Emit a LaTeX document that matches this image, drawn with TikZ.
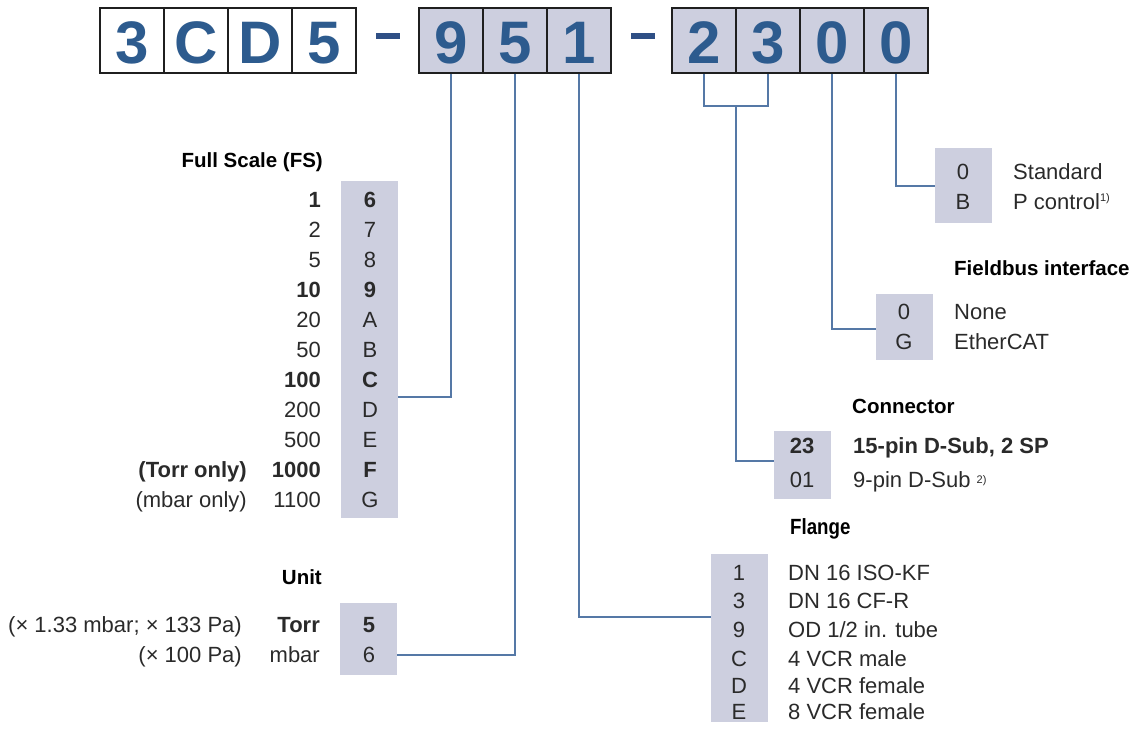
\documentclass[tikz,border=0pt]{standalone}
\usepackage{fontspec}
\setmainfont{Liberation Sans}
\newfontfamily\condfont[FakeStretch=0.85]{Liberation Sans}
\definecolor{boxfill}{HTML}{CDCFDF}
\definecolor{digitc}{HTML}{2D5B8E}
\definecolor{dashc}{HTML}{2F4F85}
\definecolor{connc}{HTML}{5578A6}
\definecolor{txtc}{HTML}{2A2A2A}
\begin{document}
\begin{tikzpicture}[x=1pt,y=-1pt,
 codebox/.style={draw=black!88, line width=2.2pt, minimum width=64pt, minimum height=65pt, inner sep=0pt, text height=46pt, text depth=0pt, text=digitc, font=\fontsize{60}{60}\selectfont\bfseries},
 selbox/.style={codebox, fill=boxfill},
 tab/.style={fill=boxfill, inner sep=0pt, minimum width=57pt},
 cell/.style={inner sep=0pt, text height=15pt, text depth=0pt, text=txtc, font=\fontsize{22}{22}\selectfont},
 bcell/.style={cell, font=\fontsize{22}{22}\selectfont\bfseries},
 head/.style={inner sep=0pt, text height=15pt, text depth=0pt, text=black, font=\fontsize{20.5}{20.5}\selectfont\bfseries},
 conn/.style={draw=connc, line width=1.3pt},
 dashbar/.style={fill=dashc, inner sep=0pt, minimum width=24pt, minimum height=6pt}]
\useasboundingbox (0,0) rectangle (1139,731);

% code boxes
\foreach \t/\x [count=\i] in {3/132,C/196,D/260,5/324} \node[codebox] (b\i) at (\x,40.5) {\t};
\node[dashbar] (d1) at (388,36) {};
\foreach \t/\x [count=\i from 5] in {9/451,5/515,1/579} \node[selbox] (b\i) at (\x,40.5) {\t};
\node[dashbar] (d2) at (643,36) {};
\foreach \t/\x [count=\i from 8] in {2/704,3/768,0/832,0/896} \node[selbox] (b\i) at (\x,40.5) {\t};

% Full scale
\node[head, anchor=east] (fshead) at (323,160) {Full Scale (FS)};
\node[tab, minimum height=337pt] (fsbox) at (369.5,349.5) {};
\foreach \n/\l/\f [count=\i from 0] in {1/6/\bfseries, 2/7/\mdseries, 5/8/\mdseries, 10/9/\bfseries, 20/A/\mdseries, 50/B/\mdseries, 100/C/\bfseries, 200/D/\mdseries, 500/E/\mdseries, 1000/F/\bfseries, 1100/G/\mdseries} {
  \node[cell, anchor=east] (fsn\i) at (321, 200+30*\i) {\f\n};
  \node[cell] (fsl\i) at (370, 200+30*\i) {\f\l};
}
\node[bcell, anchor=east] (torronly) at (247,470) {(Torr only)};
\node[cell, anchor=east] (mbaronly) at (247,500) {(mbar only)};

% Unit
\node[head, anchor=east] (unithead) at (322,577) {Unit};
\node[tab, minimum height=72pt] (unitbox) at (368.5,639) {};
\node[bcell] (u5) at (369,625) {5};
\node[cell] (u6) at (369,655) {6};
\node[bcell, anchor=east] (torr) at (320,625) {Torr};
\node[cell, anchor=east] (mbar) at (320,655) {mbar};
\node[cell, anchor=east] (torrnote) at (242,625) {(× 1.33 mbar; × 133 Pa)};
\node[cell, anchor=east] (mbarnote) at (242,655) {(× 100 Pa)};

% Flange
\node[head, font=\condfont\fontsize{22}{22}\selectfont\bfseries, anchor=west] (flhead) at (790,527) {Flange};
\node[tab, minimum height=168pt] (flbox) at (739.5,637.5) {};
\node[cell] (fl1) at (739,573) {1};
\node[cell] (fl2) at (739,601) {3};
\node[cell] (fl3) at (739,630) {9};
\node[cell] (fl4) at (739,659) {C};
\node[cell] (fl5) at (739,686) {D};
\node[cell] (fl6) at (739,712) {E};
\node[cell, anchor=west] (flt1) at (788,573) {DN 16 ISO-KF};
\node[cell, anchor=west] (flt2) at (788,601) {DN 16 CF-R};
\node[cell, anchor=west] (flt3) at (788,630) {OD 1/2 in. tube};
\node[cell, anchor=west] (flt4) at (788,659) {4 VCR male};
\node[cell, anchor=west] (flt5) at (788,686) {4 VCR female};
\node[cell, anchor=west] (flt6) at (788,712) {8 VCR female};

% Connector
\node[head, anchor=west] (conhead) at (852,406) {Connector};
\node[tab, minimum height=68pt] (conbox) at (802.5,465) {};
\node[bcell] (c23) at (802,446) {23};
\node[cell] (c01) at (802,480) {01};
\node[bcell, anchor=west] (ct1) at (853,446) {15-pin D-Sub, 2 SP};
\node[cell, anchor=west] (ct2) at (853,480) {9-pin D-Sub {\fontsize{11}{11}\selectfont\raisebox{4pt}{2)}}};

% Fieldbus
\node[head, anchor=west] (fbhead) at (954,268) {Fieldbus interface};
\node[tab, minimum height=66pt] (fbbox) at (904.5,327) {};
\node[cell] (fb0) at (904,312) {0};
\node[cell] (fbG) at (904,342) {G};
\node[cell, anchor=west] (fbt1) at (954,312) {None};
\node[cell, anchor=west] (fbt2) at (954,342) {EtherCAT};

% Control
\node[tab, minimum height=75pt] (ctlbox) at (963.5,185.5) {};
\node[cell] (ct0) at (963,172) {0};
\node[cell] (ctB) at (963,202) {B};
\node[cell, anchor=west] (ctt1) at (1013,172) {Standard};
\node[cell, anchor=west] (ctt2) at (1013,202) {P control{\fontsize{11}{11}\selectfont\raisebox{8pt}{1)}}};

% connectors
\draw[conn] (b5.south) |- (fsbox.east |- 0,397);
\draw[conn] (b6.south) |- (unitbox.east |- 0,655);
\draw[conn] (b7.south) |- (flbox.west |- 0,617);
\coordinate (brk) at (736,106);
\draw[conn] (b8.south) |- (b9.south |- brk) -- (b9.south);
\draw[conn] (brk) |- (conbox.west |- 0,461);
\draw[conn] (b10.south) |- (fbbox.west |- 0,329);
\draw[conn] (b11.south) |- (ctlbox.west |- 0,186);
\end{tikzpicture}
\end{document}
